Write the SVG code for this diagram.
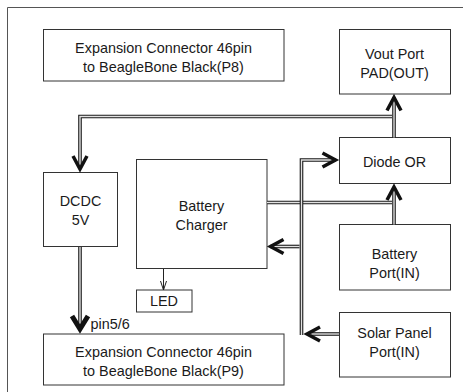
<svg xmlns="http://www.w3.org/2000/svg" width="463" height="392" viewBox="0 0 463 392">
<style>
  .frame{fill:none;stroke:#555;stroke-width:1}
  .box{fill:#fff;stroke:#333;stroke-width:1}
  .t{font-family:"Liberation Sans",Arial,sans-serif;font-size:14.4px;fill:#1a1a1a;text-anchor:middle}
  .o{fill:none;stroke:#1a1a1a;stroke-width:3.6;stroke-linejoin:miter}
  .i{fill:none;stroke:#e2e2e2;stroke-width:1.4;stroke-linejoin:miter}
  .thin{fill:none;stroke:#222;stroke-width:1}
</style>
<defs>
  <marker id="arr" markerUnits="userSpaceOnUse" markerWidth="30" markerHeight="30" refX="15" refY="12" orient="auto" overflow="visible">
    <path d="M 2,5 L 15,12 L 2,19" fill="none" stroke="#111" stroke-width="3.5"/>
  </marker>
  <marker id="arrH" markerUnits="userSpaceOnUse" markerWidth="30" markerHeight="30" refX="15" refY="12" orient="auto" overflow="visible">
    <path d="M 2,4 L 15,12 L 2,20" fill="none" stroke="#111" stroke-width="5"/>
  </marker>
  <marker id="arrT" markerUnits="userSpaceOnUse" markerWidth="12" markerHeight="12" refX="9" refY="6" orient="auto" overflow="visible">
    <path d="M 0,3 L 9,6 L 0,9" fill="none" stroke="#222" stroke-width="1"/>
  </marker>
</defs>

<path class="frame" d="M 7.5 392 V 7.5 H 463"/>

<g id="p8">
  <rect class="box" x="43.5" y="29.5" width="240.5" height="51.5"/>
  <text class="t" x="163.5" y="53">Expansion Connector 46pin</text>
  <text class="t" x="163.5" y="72">to BeagleBone Black(P8)</text>
</g>
<g id="vout">
  <rect class="box" x="339.5" y="29.5" width="111" height="64.5"/>
  <text class="t" x="394.5" y="59">Vout Port</text>
  <text class="t" x="394.5" y="78">PAD(OUT)</text>
</g>
<g id="diode">
  <rect class="box" x="339.5" y="137.5" width="111" height="46"/>
  <text class="t" x="394.5" y="167">Diode OR</text>
</g>
<g id="dcdc">
  <rect class="box" x="43.5" y="172.5" width="74" height="74"/>
  <text class="t" x="80.5" y="206">DCDC</text>
  <text class="t" x="80.5" y="225">5V</text>
</g>
<g id="charger">
  <rect class="box" x="136.5" y="159.5" width="130.5" height="109"/>
  <text class="t" x="201.5" y="210.5">Battery</text>
  <text class="t" x="201.5" y="229.5">Charger</text>
</g>
<g id="led">
  <rect class="box" x="136.5" y="290" width="55.5" height="22"/>
  <text class="t" x="164" y="306">LED</text>
</g>
<g id="battery">
  <rect class="box" x="339.5" y="224.5" width="111" height="65.5"/>
  <text class="t" x="394.5" y="259">Battery</text>
  <text class="t" x="394.5" y="277.5">Port(IN)</text>
</g>
<g id="solar">
  <rect class="box" x="339.5" y="312.5" width="111" height="64.5"/>
  <text class="t" x="394.5" y="338">Solar Panel</text>
  <text class="t" x="394.5" y="357">Port(IN)</text>
</g>
<g id="p9">
  <rect class="box" x="43.5" y="334" width="240.5" height="51"/>
  <text class="t" x="163.5" y="356.5">Expansion Connector 46pin</text>
  <text class="t" x="163.5" y="375.5">to BeagleBone Black(P9)</text>
</g>

<g id="connectors">
  <path class="o" d="M 392 116.5 H 80 V 169"/>
  <path class="i" d="M 392 116.5 H 80 V 169" marker-end="url(#arr)"/>
  <path class="o" d="M 394 137.5 V 97.5"/>
  <path class="i" d="M 394 137.5 V 97.5" marker-end="url(#arr)"/>
  <path class="o" d="M 267 202.5 H 392"/>
  <path class="i" d="M 267 202.5 H 392"/>
  <path class="o" d="M 394 224.5 V 187"/>
  <path class="i" d="M 394 224.5 V 187" marker-end="url(#arr)"/>
  <path class="o" d="M 301.5 335 V 160 H 335.5"/>
  <path class="i" d="M 301.5 335 V 160 H 335.5" marker-end="url(#arr)"/>
  <path class="o" d="M 339 334 H 307"/>
  <path class="i" d="M 339 334 H 307" marker-end="url(#arr)"/>
  <path class="o" d="M 299.5 246.5 H 270.5"/>
  <path class="i" d="M 299.5 246.5 H 270.5" marker-end="url(#arr)"/>
  <path class="o" d="M 80 247 V 329"/>
  <path class="i" d="M 80 247 V 329" marker-end="url(#arrH)"/>
  <path class="thin" d="M 163.5 269 V 290" marker-end="url(#arrT)"/>
  <text class="t" x="90.5" y="329" style="text-anchor:start">pin5/6</text>
</g>
</svg>
